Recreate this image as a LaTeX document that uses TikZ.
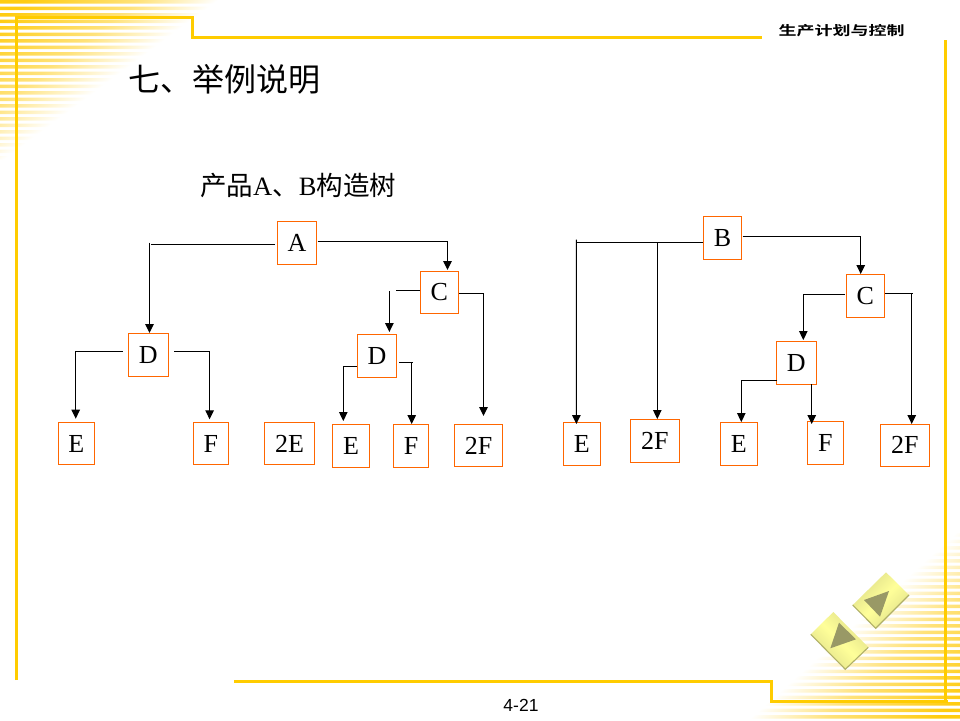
\documentclass[tikz,border=0pt]{standalone}
\usepackage{fontspec}
\setmainfont{Liberation Serif}
\newfontfamily\cjk{Noto Sans CJK SC}
\newfontfamily\cjkb{Noto Sans CJK SC Bold}
\newfontfamily\arial{Liberation Sans}
\usetikzlibrary{arrows.meta}
\definecolor{gold}{HTML}{FFCC00}
\definecolor{stripe}{HTML}{FFCC11}
\definecolor{stripemid}{HTML}{FFE27A}
\definecolor{boxline}{HTML}{FF6600}
\definecolor{btnlight}{HTML}{FFFF99}
\definecolor{btnedge}{HTML}{DEDE8A}
\definecolor{btndark}{HTML}{B0B068}
\definecolor{btntri}{HTML}{999966}
\pgfdeclareverticalshading{fadeTL}{100bp}{color(0bp)=(white); color(60bp)=(white); color(69bp)=(stripemid); color(82bp)=(stripe); color(100bp)=(stripe)}
\pgfdeclareverticalshading{fadeBR}{100bp}{color(0bp)=(white); color(58bp)=(white); color(68bp)=(stripemid); color(82bp)=(stripe); color(100bp)=(stripe)}
\newcommand{\lb}[1]{\raisebox{-1pt}{#1}}
\tikzset{
  frameline/.style={draw=gold,line width=3pt,line cap=butt,line join=miter},
  tbox/.style={draw=boxline,line width=1.25pt,inner sep=0pt,outer sep=0pt,font=\fontsize{26}{26}\selectfont},
  plain/.style={draw=black,line width=1.15pt},
  conn/.style={plain,-{Triangle[length=9pt,width=8.5pt]}},
  btn/.style={left color=btnedge,right color=btnedge,middle color=btnlight},
}
\begin{document}
\begin{tikzpicture}[x=1pt,y=-1pt]
\useasboundingbox (0,0) rectangle (960,720);
% stripes
\begin{scope}
  \clip (0,0) rectangle (0,0)
  \foreach \k in {0,...,40}{ (0,6.5*\k) rectangle (260,6.5*\k+3.5) };
  \path[shading=fadeTL,shading angle=36.7] (0,0) rectangle (260,260);
\end{scope}
\begin{scope}
  \clip (0,0) rectangle (0,0)
  \foreach \k in {0,...,40}{ (700,715-6.5*\k) rectangle (960,718.5-6.5*\k) };
  \path[shading=fadeBR,shading angle=222] (700,460) rectangle (960,720);
\end{scope}
% frame
\draw[frameline] (16,680) -- (16,17) -- (192,17) -- (192,37.5) -- (762,37.5);
\draw[frameline] (945.3,40) -- (945.3,701.5);
\draw[frameline] (234,681) -- (771.5,681) -- (771.5,701.5) -- (948,701.5);
% texts
\node[inner sep=0pt,anchor=center] (hdr) at (841.5,31) {\scalebox{1}[0.72]{\cjkb\fontsize{18}{18}\selectfont 生产计划与控制}};
\node[inner sep=0pt,anchor=west] (ttl) at (128,79) {\cjk\fontsize{32}{32}\selectfont 七、举例说明};
\node[inner sep=0pt,anchor=west] (sub) at (200,186) {\fontsize{26.5}{26.5}\selectfont{\cjk 产品}A{\cjk 、}B{\cjk 构造树}};
\node[inner sep=0pt] (pg) at (521,705) {\arial\fontsize{17.5}{17.5}\selectfont 4-21};
% left tree
\node[tbox,minimum width=39.4,minimum height=43] (A) at (297,242.8) {\lb{A}};
\node[tbox,minimum width=38,minimum height=42] (C1) at (439.3,292.3) {\lb{C}};
\node[tbox,minimum width=40,minimum height=43] (D1) at (148.3,354.8) {\lb{D}};
\node[tbox,minimum width=39.4,minimum height=43] (D2) at (377,355.8) {\lb{D}};
\node[tbox,minimum width=36,minimum height=42.4] (E1) at (76.3,443.5) {\lb{E}};
\node[tbox,minimum width=35,minimum height=42.4] (F1) at (210.8,443.5) {\lb{F}};
\node[tbox,minimum width=50.4,minimum height=42.4] (EE) at (289.5,443.5) {\lb{2E}};
\node[tbox,minimum width=37.4,minimum height=43.4] (E2) at (351,446) {\lb{E}};
\node[tbox,minimum width=35.4,minimum height=43.4] (F2) at (411,446) {\lb{F}};
\node[tbox,minimum width=48.4,minimum height=42.4] (FFa) at (478.5,445.5) {\lb{2F}};
% right tree
\node[tbox,minimum width=38.4,minimum height=43] (B) at (722.5,237.8) {\lb{B}};
\node[tbox,minimum width=38,minimum height=43] (C2) at (865.3,295.8) {\lb{C}};
\node[tbox,minimum width=40,minimum height=43] (D3) at (796.3,362.8) {\lb{D}};
\node[tbox,minimum width=37,minimum height=43] (E3) at (581.8,443.8) {\lb{E}};
\node[tbox,minimum width=49,minimum height=43] (FFb) at (654.8,440.8) {2F};
\node[tbox,minimum width=37,minimum height=43] (E4) at (738.8,443.8) {\lb{E}};
\node[tbox,minimum width=36,minimum height=43] (F3) at (825.3,442.8) {\lb{F}};
\node[tbox,minimum width=49,minimum height=42] (FFc) at (904.8,445.3) {\lb{2F}};
% free ends
\coordinate (adH) at (151,244.3);
\coordinate (adV) at (149.5,242.5);
\coordinate (cdH) at (395.5,290.3);
\coordinate (cdV) at (389.4,291);
\coordinate (dfH) at (413,362.3);
\coordinate (dfV) at (411.7,362.3);
\coordinate (beH) at (576,242.3);
\coordinate (beV) at (576.4,239.7);
\coordinate (bfV) at (657.3,242.3);
\coordinate (cfH) at (913,293.3);
\coordinate (cfV) at (911.7,293.3);
% left connectors
\draw[plain] ([shift={(-2.3,1.5)}]A.west) -- (adH);
\draw[conn] (adV) -- ([shift={(1.2,-0.3)}]D1.north);
\draw[conn] ([shift={(0.8,-1.5)}]A.east) -| ([shift={(8.2,-1.3)}]C1.north);
\draw[plain] ([shift={(-0.3,-2)}]C1.west) -- (cdH);
\draw[conn] (cdV) -- ([shift={(12.4,-2.3)}]D2.north);
\draw[conn] ([shift={(0.7,1)}]C1.east) -| ([shift={(5,-8.3)}]FFa.north);
\draw[conn] ([shift={(-5.6,-3.5)}]D1.west) -| ([shift={(-0.6,-3.6)}]E1.north);
\draw[conn] ([shift={(5.7,-3.5)}]D1.east) -| ([shift={(-1.2,-3)}]F1.north);
\draw[conn] ([shift={(-0.3,10.5)}]D2.west) -| ([shift={(-7.7,-3.3)}]E2.north);
\draw[plain] ([shift={(2.3,6.5)}]D2.east) -- (dfH);
\draw[conn] (dfV) -- ([shift={(0.7,-0.3)}]F2.north);
% right connectors
\draw[plain] ([shift={(-0.3,4.5)}]B.west) -- (beH);
\draw[conn] (beV) -- ([shift={(-5.4,1.7)}]E3.north);
\draw[conn] (bfV) -- ([shift={(2.5,-0.3)}]FFb.north);
\draw[conn] ([shift={(1,-1.5)}]B.east) -| ([shift={(-4.6,-0.3)}]C2.north);
\draw[conn] ([shift={(-1.3,-1.5)}]C2.west) -| ([shift={(7,-1.3)}]D3.north);
\draw[plain] ([shift={(0.7,-2.5)}]C2.east) -- (cfH);
\draw[conn] (cfV) -- ([shift={(6.9,-0.3)}]FFc.north);
\draw[conn] ([shift={(0.7,17.5)}]D3.west) -| ([shift={(2.5,-0.3)}]E4.north);
\draw[conn] ([shift={(15.4,0)}]D3.south) -- ([shift={(-13.6,2.7)}]F3.north);
% nav buttons
\path[btn,shading angle=45] (886,572.3) -- (909,595) -- (875.7,628.3) -- (852.7,605) -- cycle;
\draw[btndark,line width=1.1pt] (852.7,605) -- (875.7,628.3) -- (909,595);
\fill[btntri] (889,591) -- (864,600) -- (880,616.7) -- cycle;
\path[btn,shading angle=-45] (833.3,612) -- (868.3,647.3) -- (845.3,669.3) -- (810.7,634.3) -- cycle;
\draw[btndark,line width=1.1pt] (810.7,634.3) -- (845.3,669.3) -- (868.3,647.3);
\fill[btntri] (839,622.7) -- (856,639.3) -- (830.3,648.3) -- cycle;
\end{tikzpicture}
\end{document}
